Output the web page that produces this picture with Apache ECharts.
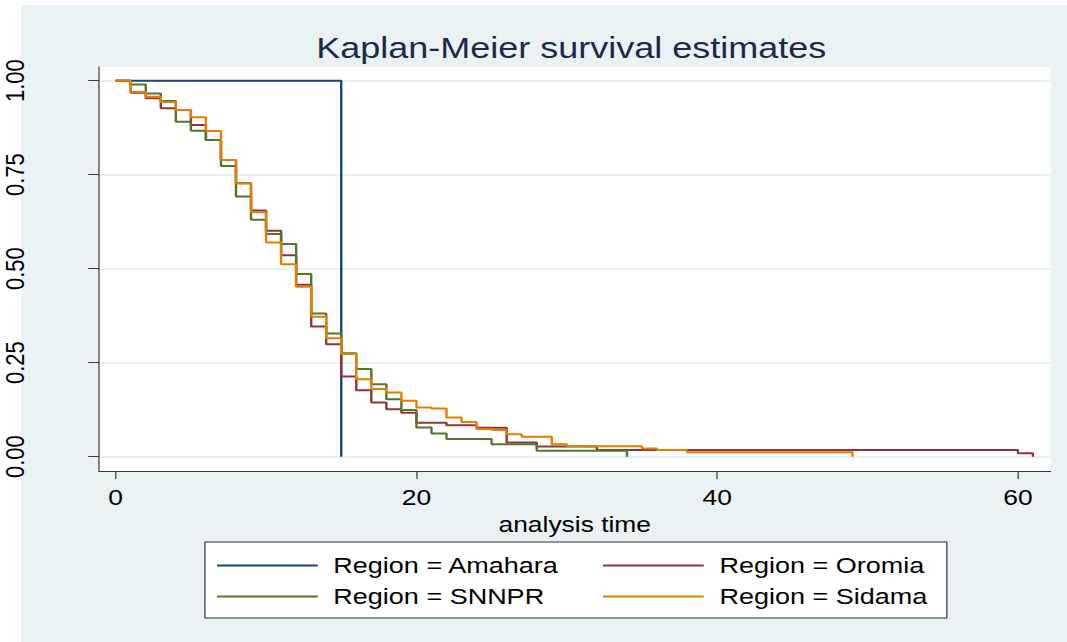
<!DOCTYPE html>
<html>
<head>
<meta charset="utf-8">
<title>Kaplan-Meier survival estimates</title>
<script src="https://cdn.jsdelivr.net/npm/echarts@6/dist/echarts.min.js"></script>
<style>
  html, body { margin: 0; padding: 0; background: #ffffff; width: 1067px; height: 642px; overflow: hidden; }
  #frame { position: absolute; left: 21px; top: 5px; right: 0; bottom: 0; background: #EAF2F3; }
  /* the chart is laid out at a narrower width and widened 1.2x horizontally */
  #chart { position: absolute; left: 0; top: 0; width: 889.1667px; height: 642px; transform: scaleX(1.2); transform-origin: 0 0; }
</style>
</head>
<body>
<div id="frame"></div>
<div id="chart"></div>
<script>
// Kaplan-Meier survival estimates by region (time, survival probability after each step)
const regionNames = ['Region = Amahara', 'Region = Oromia', 'Region = SNNPR', 'Region = Sidama'];
const regionColors = ['#1A476F', '#90353B', '#55752F', '#E37E00'];

const amaharaTime = [0, 15];
const amaharaSurv = [1, 0];

const oromiaTime = [0, 1, 2, 3, 4, 5, 6, 7, 8, 9, 10, 11, 12, 13, 14, 15, 16, 17, 18, 19, 20, 22, 24, 26, 28, 32, 60, 61];
const oromiaSurv = [1, 0.968, 0.953, 0.927, 0.922, 0.882, 0.842, 0.789, 0.727, 0.655, 0.601, 0.536, 0.457, 0.346, 0.299,
                    0.213, 0.177, 0.144, 0.126, 0.117, 0.090, 0.084, 0.077, 0.038, 0.027, 0.018, 0.009, 0];

const snnprTime = [0, 1, 2, 3, 4, 5, 6, 7, 8, 9, 10, 11, 12, 13, 14, 15, 16, 17, 18, 19, 20, 21, 22, 25, 28, 34];
const snnprSurv = [1, 0.990, 0.966, 0.946, 0.891, 0.867, 0.842, 0.773, 0.692, 0.630, 0.592, 0.566, 0.486, 0.381, 0.328,
                   0.275, 0.233, 0.193, 0.153, 0.124, 0.078, 0.062, 0.047, 0.033, 0.016, 0];

const sidamaTime = [0, 1, 2, 3, 4, 5, 6, 7, 8, 9, 10, 11, 12, 13, 14, 15, 16, 17, 18, 19, 20, 21, 22, 23, 24, 25, 26, 27,
                    29, 30, 35, 36, 38, 49];
const sidamaSurv = [1, 0.970, 0.957, 0.943, 0.922, 0.903, 0.866, 0.789, 0.727, 0.650, 0.570, 0.512, 0.452, 0.372, 0.315,
                    0.273, 0.206, 0.180, 0.171, 0.149, 0.131, 0.128, 0.104, 0.092, 0.074, 0.071, 0.060, 0.053,
                    0.033, 0.028, 0.022, 0.018, 0.012, 0];

const xTickValues = [0, 20, 40, 60];
const yTickValues = [0, 0.25, 0.5, 0.75, 1];

const FONT = "'Liberation Sans', Arial, sans-serif";
const AXIS_COLOR = '#3a3a3a';

function pairs(ts, ss) {
  return ts.map((t, i) => [t, ss[i]]);
}

const curves = [
  pairs(amaharaTime, amaharaSurv),
  pairs(oromiaTime, oromiaSurv),
  pairs(snnprTime, snnprSurv),
  pairs(sidamaTime, sidamaSurv)
];

const series = curves.map((data, i) => ({
  name: regionNames[i],
  type: 'line',
  step: 'end',
  data: data,
  symbol: 'none',
  showSymbol: false,
  silent: true,
  color: regionColors[i],
  itemStyle: { color: regionColors[i] },
  lineStyle: { color: regionColors[i], width: 2 },
  emphasis: { disabled: true },
  z: 2 + i
}));

// legend entries: a short solid bar followed by the label, laid out as two rows of two
const legendCommon = {
  orient: 'horizontal',
  selectedMode: false,
  icon: 'rect',
  itemWidth: 84,
  itemHeight: 2,
  itemGap: 0,
  itemStyle: { borderWidth: 0 },
  textStyle: { fontFamily: FONT, fontSize: 22.5, color: '#000', padding: [0, 0, 0, 8] },
  padding: 0,
  z: 5
};

const col1 = 180.8, col2 = 502.5, row1 = 554, row2 = 585;

const chart = echarts.init(document.getElementById('chart'), null, { renderer: 'svg' });
chart.setOption({
  animation: false,
  backgroundColor: 'transparent',
  textStyle: { fontFamily: FONT },
  title: {
    text: 'Kaplan-Meier survival estimates',
    left: 476,
    top: 48,
    textAlign: 'center',
    textVerticalAlign: 'middle',
    padding: 0,
    textStyle: { fontFamily: FONT, fontSize: 30, fontWeight: 'normal', color: '#1C2A4A' }
  },
  legend: [
    // first entry also carries the framed white box of the key
    Object.assign({}, legendCommon, {
      data: [regionNames[0]],
      left: col1 - 10,
      top: row1 - 12,
      padding: [12, 323, 41, 10],
      backgroundColor: '#ffffff',
      borderColor: '#333333',
      borderWidth: 1,
      borderRadius: 0,
      z: 4
    }),
    Object.assign({}, legendCommon, { data: [regionNames[1]], left: col2, top: row1 }),
    Object.assign({}, legendCommon, { data: [regionNames[2]], left: col1, top: row2 }),
    Object.assign({}, legendCommon, { data: [regionNames[3]], left: col2, top: row2 })
  ],
  grid: {
    left: 82.5,
    right: 889.1667 - 875.6,
    top: 67,
    bottom: 642 - 471,
    show: true,
    backgroundColor: '#ffffff',
    borderWidth: 0,
    containLabel: false,
    outerBoundsMode: 'none'
  },
  xAxis: {
    type: 'value',
    min: -1.11,
    max: 62.17,
    name: 'analysis time',
    nameLocation: 'middle',
    nameGap: 37,
    nameTextStyle: { fontFamily: FONT, fontSize: 22, color: '#000' },
    axisLine: { show: true, onZero: false, lineStyle: { color: AXIS_COLOR, width: 1 } },
    axisTick: { show: true, length: 8, customValues: xTickValues, lineStyle: { color: AXIS_COLOR, width: 1 } },
    axisLabel: { customValues: xTickValues, margin: 15, fontFamily: FONT, fontSize: 22, color: '#000' },
    splitLine: { show: false },
    splitArea: { show: false }
  },
  yAxis: {
    type: 'value',
    min: -0.038,
    max: 1.0364,
    axisLine: { show: true, onZero: false, lineStyle: { color: AXIS_COLOR, width: 1 } },
    axisTick: { show: true, length: 9, customValues: yTickValues, lineStyle: { color: AXIS_COLOR, width: 1 } },
    axisLabel: {
      customValues: yTickValues,
      rotate: 90,
      margin: 59,
      fontFamily: FONT,
      fontSize: 22,
      color: '#000',
      formatter: v => v.toFixed(2)
    },
    splitLine: { show: true, lineStyle: { color: '#EAF2F3', width: 2 } },
    splitArea: { show: false }
  },
  series: series
});
</script>
</body>
</html>
